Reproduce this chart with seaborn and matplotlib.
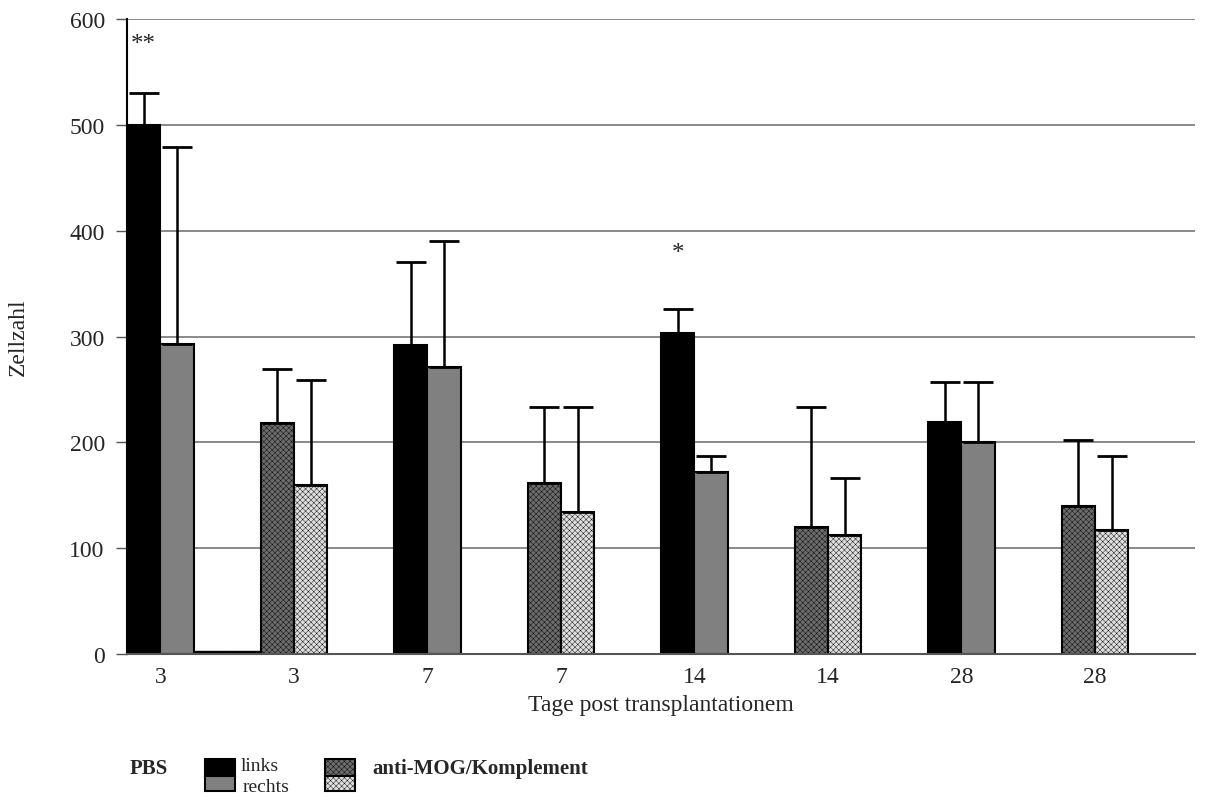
import seaborn as sns
import pandas as pd
import matplotlib.pyplot as plt
from matplotlib.patches import Rectangle

# values
tage = ['3', '3', '7', '7', '14', '14', '28', '28']
gruppe = ['PBS', 'anti', 'PBS', 'anti', 'PBS', 'anti', 'PBS', 'anti']
links = [500, 218, 292, 162, 303, 120, 219, 140]
rechts = [293, 160, 271, 134, 172, 112, 200, 117]
links_fehler = [30, 51, 78, 71, 23, 113, 38, 62]
rechts_fehler = [186, 99, 119, 99, 15, 54, 57, 70]
luecke = [3, 3]   # the two flat bars next to the first group
sterne = ['**', '', '', '', '*', '', '', '']
stern_hoehe = [576, 0, 0, 0, 379, 0, 0, 0]

farben = {('PBS', 'links'): ('#000000', ''), ('PBS', 'rechts'): ('#808080', ''),
          ('anti', 'links'): ('#6c6c6c', 'xxxxxx'), ('anti', 'rechts'): ('#dedede', 'xxxxxx')}

df = pd.DataFrame({'slot': list(range(8)) * 2,
                   'Seite': ['links'] * 8 + ['rechts'] * 8,
                   'Zellzahl': links + rechts})

sns.set_style('white')
plt.rcParams['font.family'] = ['Liberation Serif', 'DejaVu Serif']
plt.rcParams['hatch.linewidth'] = 0.3

fig = plt.figure(figsize=(12.13, 8.03), dpi=100)
ax = fig.add_axes([0.1047, 0.1843, 0.8805, 0.7908])
sns.barplot(data=df, x='slot', y='Zellzahl', hue='Seite', width=0.5,
            errorbar=None, legend=False, ax=ax, saturation=1)

for cont, seite, fehler, werte in zip(ax.containers, ['links', 'rechts'],
                                      [links_fehler, rechts_fehler], [links, rechts]):
    xs = []
    for i, bar in enumerate(cont):
        fc, h = farben[(gruppe[i], seite)]
        bar.set_facecolor(fc)
        bar.set_hatch(h)
        bar.set_edgecolor('black')
        bar.set_linewidth(1.5)
        xs.append(bar.get_x() + bar.get_width() / 2)
    ax.errorbar(xs, werte, yerr=[[0] * len(werte), fehler], fmt='none',
                ecolor='black', elinewidth=1.8, capsize=11, capthick=2, zorder=1)

# flat bars between first and second group
b0 = ax.containers[1][0]
w = b0.get_width()
ax.bar([b0.get_x() + w * 1.5, b0.get_x() + w * 2.5], luecke, width=w,
       color='black', edgecolor='black', zorder=2)

for i, s in enumerate(sterne):
    if s:
        b = ax.containers[0][i]
        ax.text(b.get_x() + b.get_width() / 2, stern_hoehe[i], s,
                ha='center', va='center', fontsize=18)

ax.set_xlim(-0.25, 7.75)
ax.set_ylim(0, 600)
ax.set_yticks(range(0, 601, 100))
ax.set_xticks(range(8))
ax.set_xticklabels(tage)
ax.yaxis.grid(True, color='#808080', linewidth=1.3)
ax.set_axisbelow(True)
for sp in ['top', 'right']:
    ax.spines[sp].set_visible(False)
ax.spines['left'].set_color('black')
ax.spines['left'].set_linewidth(1.5)
ax.spines['bottom'].set_color('#555555')
ax.spines['bottom'].set_linewidth(1.5)
ax.tick_params(axis='y', left=True, length=8, width=1, pad=8, labelsize=17, color='#555555')
ax.tick_params(axis='x', bottom=False, pad=5, labelsize=17)
ax.set_xlabel('Tage post transplantationem', fontsize=17, labelpad=5)
ax.set_ylabel('Zellzahl', fontsize=17)
ax.yaxis.set_label_coords(-0.092, 0.5)

# legend below the chart
W, H = 1213.0, 803.0
def rect(x0, y0, x1, y1, fc, h=''):
    fig.patches.append(Rectangle((x0 / W, 1 - y1 / H), (x1 - x0) / W, (y1 - y0) / H,
                                 transform=fig.transFigure, facecolor=fc, hatch=h,
                                 edgecolor='black', linewidth=1.5))

fig.text(130 / W, 1 - 769 / H, 'PBS', fontsize=15, fontweight='bold', va='center')
rect(205, 760, 235, 777, farben[('PBS', 'links')][0])
rect(205, 777, 235, 792, farben[('PBS', 'rechts')][0])
fig.text(241 / W, 1 - 767 / H, 'links', fontsize=14, va='center')
fig.text(243 / W, 1 - 788 / H, 'rechts', fontsize=14, va='center')
rect(325, 760, 355, 777, *farben[('anti', 'links')])
rect(325, 777, 355, 792, *farben[('anti', 'rechts')])
fig.text(372 / W, 1 - 769 / H, 'anti-MOG/Komplement', fontsize=15, fontweight='bold', va='center')

fig.savefig('out.png', dpi=100)
